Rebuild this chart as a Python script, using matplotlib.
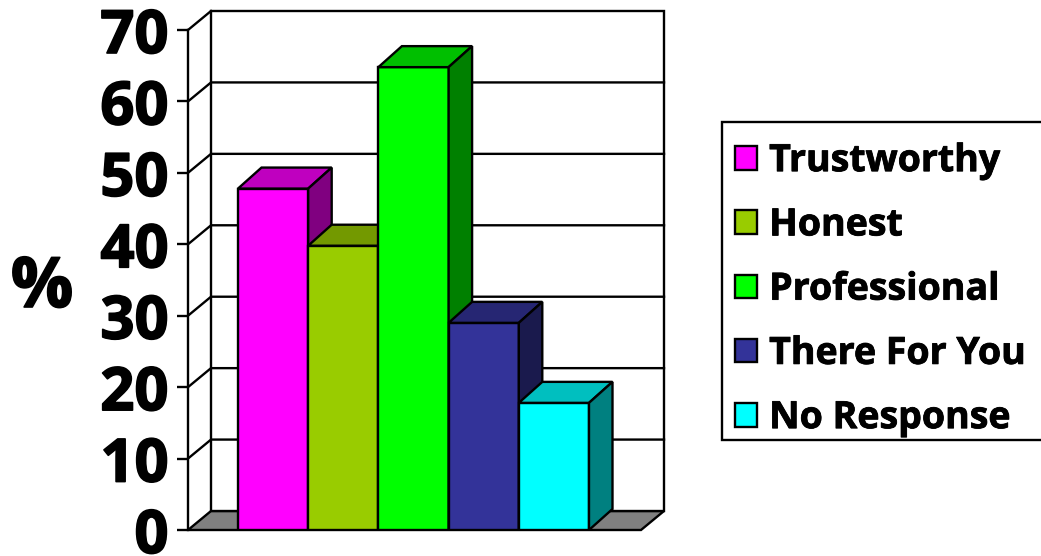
import matplotlib
matplotlib.use('Agg')
import matplotlib.pyplot as plt
import matplotlib.patheffects as pe
from matplotlib.patches import Polygon, Patch, Rectangle

categories = ['Trustworthy', 'Honest', 'Professional', 'There For You', 'No Response']
values = [47.8, 39.8, 64.8, 29, 17.8]
colors = ['#FF00FF', '#99CC00', '#00FF00', '#333399', '#00FFFF']
top_colors = ['#BF00BF', '#739900', '#00BF00', '#262673', '#00BFBF']
side_colors = ['#800080', '#668800', '#008000', '#1A1A4D', '#008080']
yticks = [0, 10, 20, 30, 40, 50, 60, 70]

W, H = 1041, 556
FONT = 'Open Sans'
fig = plt.figure(figsize=(W / 100, H / 100), dpi=100)

# front plane of the fake 3d box, in pixels
left, right, top, bottom = 188, 641, 30, 530
ax = fig.add_axes([left / W, 1 - bottom / H, (right - left) / W, (bottom - top) / H])
ax.set_xlim((left - 238) / 70.2, (right - 238) / 70.2)
ax.set_ylim(0, 70)
ax.patch.set_visible(False)
for s in ax.spines.values():
    s.set_visible(False)
ax.spines['left'].set_visible(True)
ax.spines['left'].set_linewidth(1.7)

# depth offset of walls and bars, data units
wall_dx = 23 / 70.2
wall_dy = 19 / (500 / 70)
bar_dx = 23.5 / 70.2
bar_dy = 21 / (500 / 70)
x0, x1 = ax.get_xlim()
lw = 1.7

# floor
ax.add_patch(Polygon([(x0, 0), (x0 + wall_dx, wall_dy), (x1 + wall_dx, wall_dy), (x1, 0)],
                     closed=True, fc='#808080', ec='black', lw=lw, clip_on=False, zorder=1))
# back wall and side wall
ax.add_patch(Polygon([(x0 + wall_dx, wall_dy), (x0 + wall_dx, 70 + wall_dy),
                      (x1 + wall_dx, 70 + wall_dy), (x1 + wall_dx, wall_dy)],
                     closed=True, fc='white', ec='black', lw=lw, clip_on=False, zorder=1))
ax.plot([x0, x0 + wall_dx], [70, 70 + wall_dy], color='black', lw=lw, clip_on=False, zorder=1)
for t in yticks[1:-1]:
    ax.plot([x0, x0 + wall_dx, x1 + wall_dx], [t, t + wall_dy, t + wall_dy],
            color='black', lw=lw, clip_on=False, zorder=1)

# bars, left to right so the depth faces overlap properly
for i, v in enumerate(values):
    ax.bar(i + 0.5, v, width=1, color=colors[i], edgecolor='black', lw=lw, zorder=2 + i)
    ax.add_patch(Polygon([(i, v), (i + bar_dx, v + bar_dy), (i + 1 + bar_dx, v + bar_dy), (i + 1, v)],
                         closed=True, fc=top_colors[i], ec='black', lw=lw, clip_on=False, zorder=2 + i))
    ax.add_patch(Polygon([(i + 1, 0), (i + 1 + bar_dx, bar_dy), (i + 1 + bar_dx, v + bar_dy), (i + 1, v)],
                         closed=True, fc=side_colors[i], ec='black', lw=lw, clip_on=False, zorder=2 + i))

# heavier than plain bold, the original font is much blacker
heavy = [pe.withStroke(linewidth=1.2, foreground='black')]

ax.set_xticks([])
ax.set_yticks(yticks)
ax.tick_params(axis='y', length=8, width=1.7, pad=6)
for lab in ax.get_yticklabels():
    lab.set_fontsize(43)
    lab.set_fontweight('bold')
    lab.set_fontfamily(FONT)
    lab.set_path_effects(heavy)
fig.text(42 / W, 1 - 289 / H, '%', fontsize=50, fontweight='bold', family=FONT,
         ha='center', va='center', path_effects=heavy)

# legend box drawn apart, its top gap is bigger than the bottom one
fig.add_artist(Rectangle((722 / W, 1 - 440 / H), 330 / W, 318 / H, transform=fig.transFigure,
                         fc='white', ec='black', lw=lw, zorder=5))
handles = [Patch(fc=c, ec='black', lw=lw) for c in colors]
leg = fig.legend(handles, categories, loc='upper left', bbox_to_anchor=(722 / W, 1 - 129 / H),
                 frameon=False,
                 prop={'family': FONT, 'weight': 'bold', 'size': 27},
                 handlelength=0.587, handleheight=0.587, handletextpad=0.32,
                 labelspacing=0.7, borderpad=0.35, borderaxespad=0)
leg.set_zorder(6)
for t in leg.get_texts():
    t.set_path_effects([pe.withStroke(linewidth=0.6, foreground='black')])

fig.savefig('out.png', dpi=100)
